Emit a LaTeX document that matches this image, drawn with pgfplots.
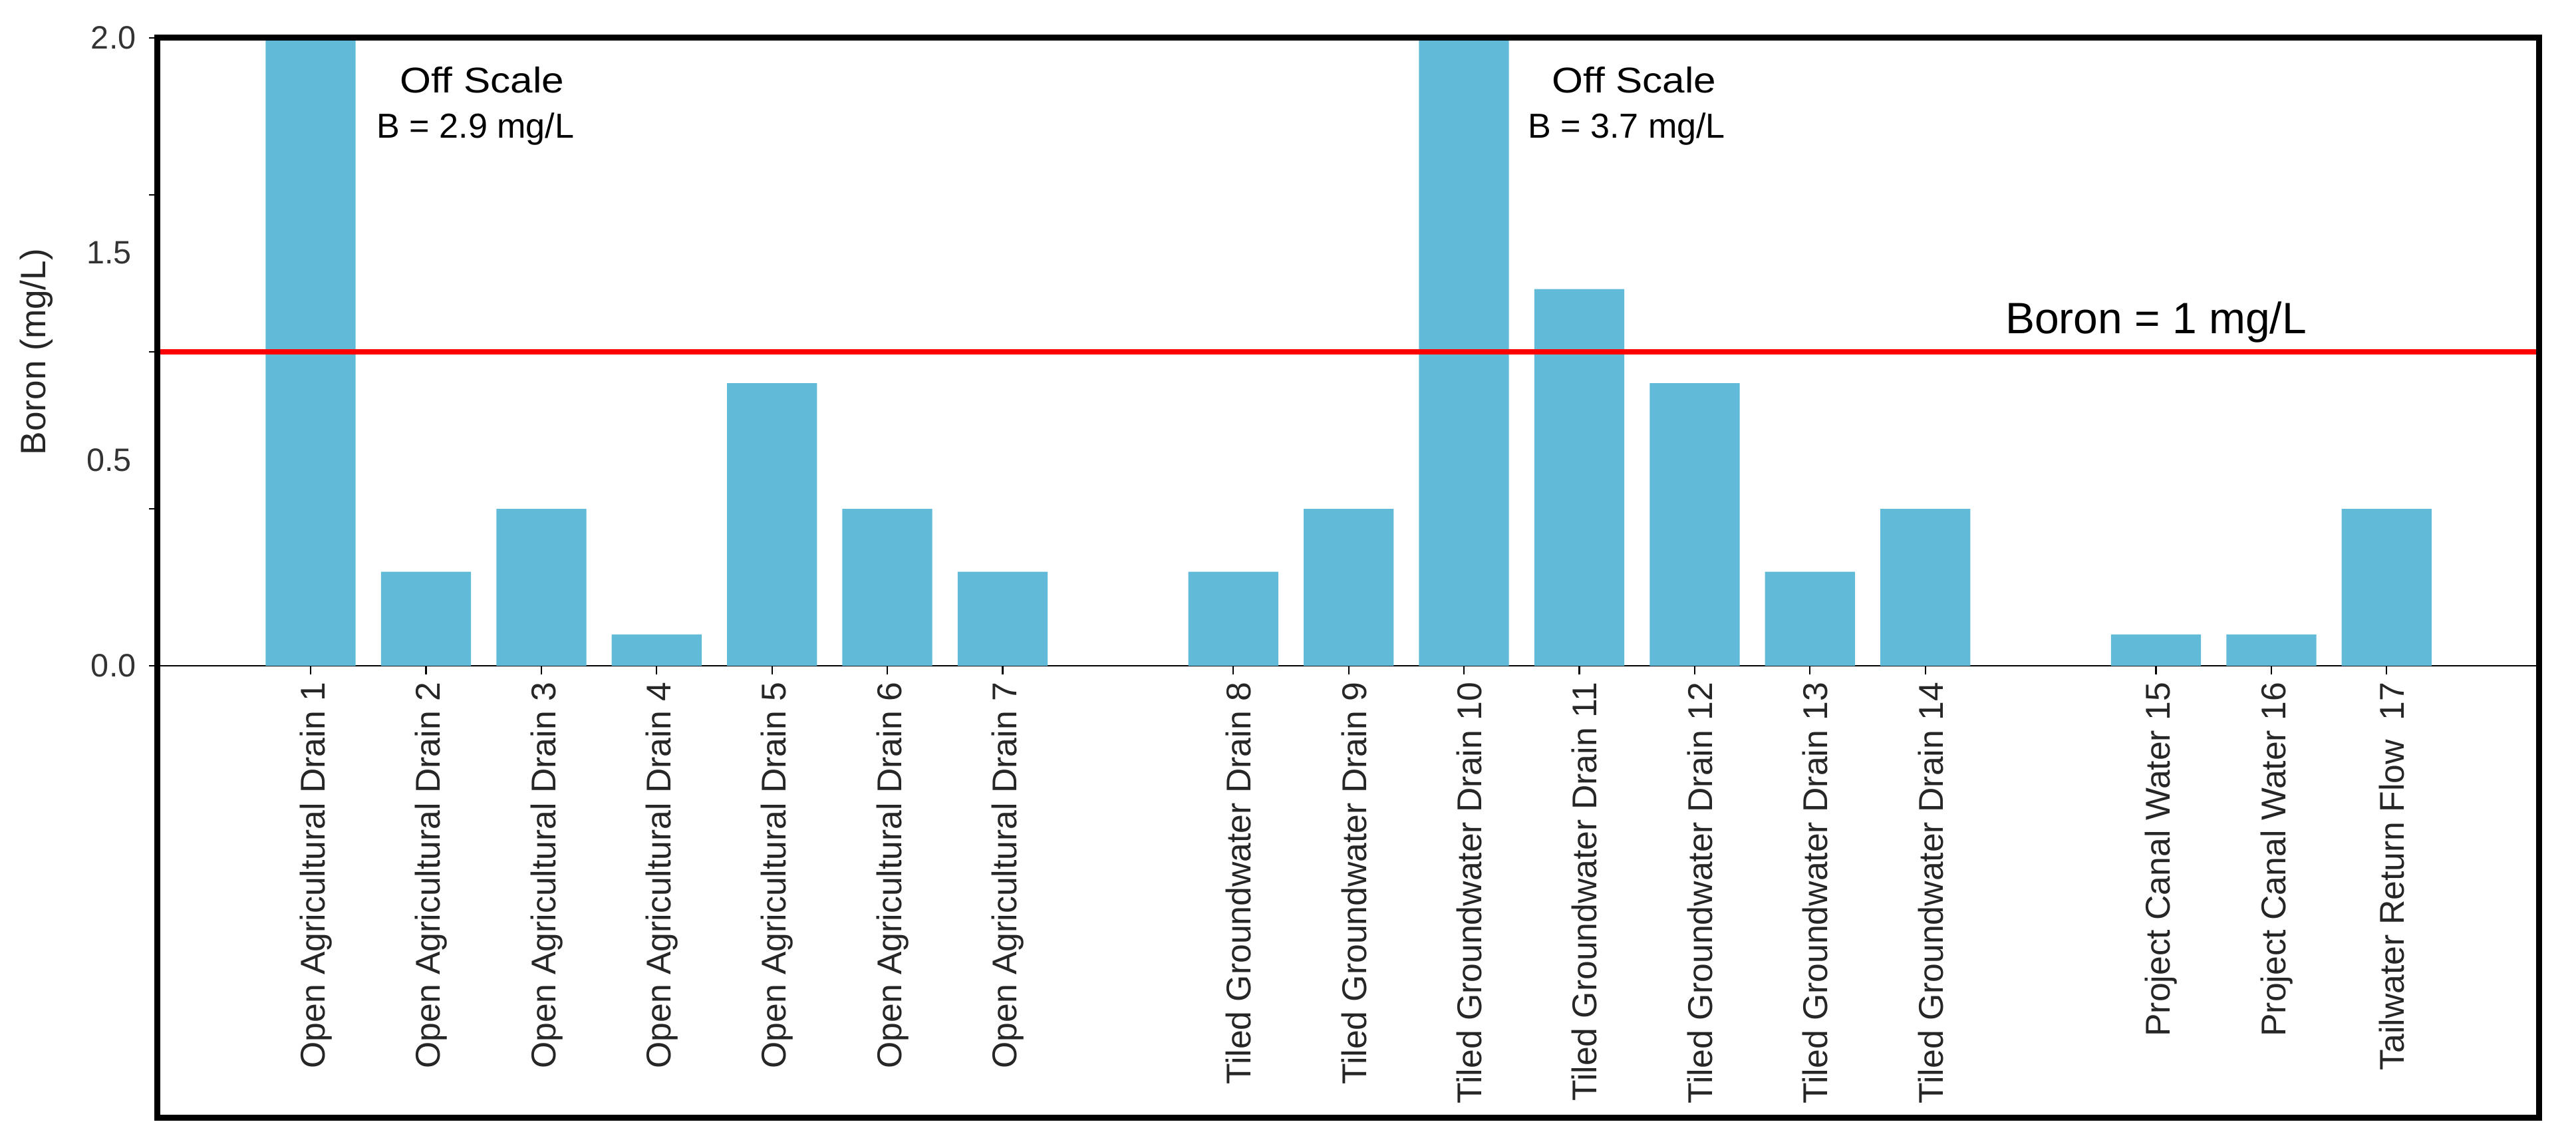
\documentclass[border=0pt]{standalone}
\usepackage{pgfplots}
\pgfplotsset{compat=1.18}
\usepackage{fontspec}
\setmainfont{Liberation Sans}
\usetikzlibrary{calc}
\definecolor{barblue}{RGB}{96,186,216}
\begin{document}
\begin{tikzpicture}
\begin{axis}[
  name=ax,
  scale only axis,
  width=362.5mm, height=95.6mm,
  xmin=-1.332, xmax=19.32,
  ymin=0, ymax=2,
  axis x line*=bottom, axis y line*=left,
  axis line style={line width=0.7pt},
  clip=true,
  ytick={0,0.5,1,1.5,2},
  yticklabels={0.0,,,,2.0},
  extra y ticks={0.655,1.315},
  extra y tick labels={0.5,1.5},
  extra y tick style={major tick length=0pt, yticklabel style={xshift=-1.95mm}},
  tick align=outside,
  major tick length=1.25mm,
  tick style={line width=0.6pt, black},
  yticklabel style={font=\fontsize{14}{16}\selectfont, text=black!80, xshift=-0.7mm},
  xtick={0,1,2,3,4,5,6,8,9,10,11,12,13,14,16,17,18},
  xticklabels={Open Agricultural Drain 1,Open Agricultural Drain 2,Open Agricultural Drain 3,Open Agricultural Drain 4,Open Agricultural Drain 5,Open Agricultural Drain 6,Open Agricultural Drain 7,Tiled Groundwater Drain 8,Tiled Groundwater Drain 9,Tiled Groundwater Drain 10,Tiled Groundwater Drain 11,Tiled Groundwater Drain 12,Tiled Groundwater Drain 13,Tiled Groundwater Drain 14,Project Canal Water 15,Project Canal Water 16,Tailwater Return Flow\hspace{0.55em}17},
  xticklabel style={rotate=90, anchor=east, font=\fontsize{14.9}{16}\selectfont, text=black!85, yshift=-0.8mm},
  ylabel={Boron (mg/L)},
  ylabel style={at={(axis description cs:-0.0505,0.5)}, anchor=center, font=\fontsize{15.3}{17}\selectfont, text=black!85},
]
\addplot[ybar, bar width=0.78, fill=barblue, draw=none] coordinates {
(0,2.9) (1,0.3) (2,0.5) (3,0.1) (4,0.9) (5,0.5) (6,0.3)
(8,0.3) (9,0.5) (10,3.7) (11,1.2) (12,0.9) (13,0.3) (14,0.5)
(16,0.1) (17,0.1) (18,0.5)};
\addplot[red, line width=2.5pt] coordinates {(-1.332,1) (19.32,1)};
\node[anchor=west, font=\fontsize{15.5}{17}\selectfont, inner sep=0pt] at (axis cs:0.77,1.866) {\scalebox{1.12}[1]{Off Scale}};
\node[anchor=west, font=\fontsize{15}{17}\selectfont, inner sep=0pt] at (axis cs:0.57,1.71) {B = 2.9 mg/L};
\node[anchor=west, font=\fontsize{15.5}{17}\selectfont, inner sep=0pt] at (axis cs:10.76,1.866) {\scalebox{1.12}[1]{Off Scale}};
\node[anchor=west, font=\fontsize{15}{17}\selectfont, inner sep=0pt] at (axis cs:10.55,1.71) {B = 3.7 mg/L};
\node[anchor=west, font=\fontsize{19}{21}\selectfont, inner sep=0pt] at (axis cs:14.69,1.094) {Boron = 1 mg/L};
\end{axis}
\draw[line width=2.6pt, black] (ax.north west) rectangle ($(ax.south east)+(0,-68.75mm)$);
\pgfresetboundingbox
\path ($(ax.south west)+(-23.9mm,-72.4mm)$) rectangle ($(ax.north east)+(5.65mm,5.75mm)$);
\end{tikzpicture}
\end{document}
